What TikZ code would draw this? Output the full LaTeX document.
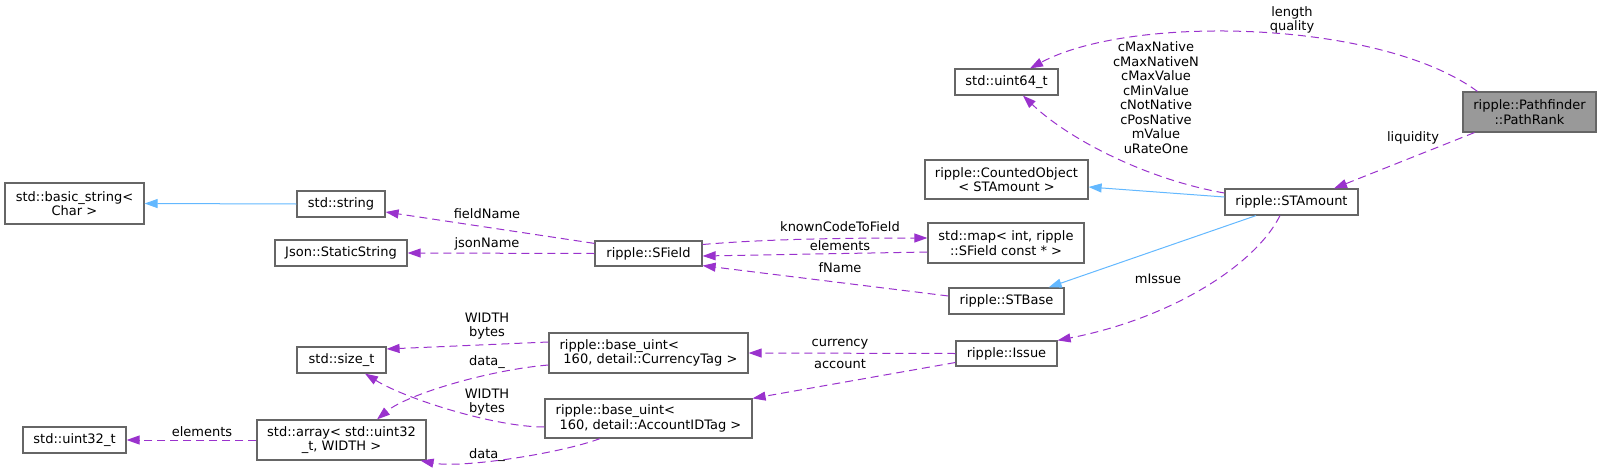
\documentclass[tikz,border=0pt]{standalone}
\usepackage{fontspec}
\setmainfont{DejaVu Sans}
\usetikzlibrary{arrows.meta,calc}
\definecolor{usecol}{HTML}{9A32CD}
\definecolor{inhcol}{HTML}{63B8FF}
\definecolor{boxline}{HTML}{666666}
\definecolor{boxgray}{HTML}{999999}
\tikzset{
  classbox/.style={draw=boxline,line width=1.2pt,fill=white,inner sep=0pt,align=center,
    font=\fontsize{13}{14.5}\selectfont},
  usage/.style={draw=usecol,line width=1pt,dash pattern=on 8pt off 5pt,
    -{Triangle[length=13pt,width=9pt,fill=usecol]}},
  inherit/.style={draw=inhcol,line width=1pt,
    -{Triangle[length=13pt,width=9pt,fill=inhcol]}},
  edgetext/.style={inner sep=0pt,align=center,font=\fontsize{13}{14.5}\selectfont}
}
\begin{document}
\begin{tikzpicture}[x=1pt,y=-1pt]
  \useasboundingbox (0,0) rectangle (1601,471);
  \node[classbox,fill=boxgray,minimum width=133,minimum height=40] (pathrank) at (1529.5,112) {ripple::Pathfinder\\::PathRank};
  \node[classbox,minimum width=133,minimum height=26] (stamount) at (1291.5,202) {ripple::STAmount};
  \node[classbox,minimum width=103,minimum height=26] (uint64) at (1006.5,82) {std::uint64\_t};
  \node[classbox,minimum width=163,minimum height=39] (counted) at (1006.5,179.5) {ripple::CountedObject\\< STAmount >};
  \node[classbox,minimum width=156,minimum height=40] (stdmap) at (1006,243) {std::map< int, ripple\\::SField const * >};
  \node[classbox,minimum width=115,minimum height=26] (stbase) at (1006.5,301) {ripple::STBase};
  \node[classbox,minimum width=101,minimum height=25] (issue) at (1006.5,353.5) {ripple::Issue};
  \node[classbox,minimum width=139,minimum height=41] (basicstr) at (74.5,203.5) {std::basic\_string<\\Char >};
  \node[classbox,minimum width=88,minimum height=26] (stdstring) at (341,204) {std::string};
  \node[classbox,minimum width=132,minimum height=26] (jsonstr) at (341,253) {Json::StaticString};
  \node[classbox,minimum width=107,minimum height=25] (sfield) at (648.5,253.5) {ripple::SField};
  \node[classbox,minimum width=89,minimum height=26] (sizet) at (341.5,360) {std::size\_t};
  \node[classbox,minimum width=103,minimum height=26] (uint32) at (74.5,440) {std::uint32\_t};
  \node[classbox,minimum width=169,minimum height=40] (stdarray) at (341.5,440) {std::array< std::uint32\\\_t, WIDTH >};
  \node[classbox,align=left,minimum width=199,minimum height=40] (curtag) at (648.5,353) {ripple::base\_uint<\\\hspace*{0.3em}160, detail::CurrencyTag >};
  \node[classbox,align=left,minimum width=207,minimum height=39] (acctag) at (648.5,418.5) {ripple::base\_uint<\\\hspace*{0.3em}160, detail::AccountIDTag >};

  \draw[usage] ($(pathrank.north west)+(15,0)$) .. controls +(-98,-72) and +(100,-54) .. ($(uint64.north)+(23.5,0)$);
  \draw[usage] ($(pathrank.south west)+(12,0)$) -- ($(stamount.north)+(42.5,0)$);
  \draw[usage] ($(stamount.west)+(0,-9)$) .. controls +(-75,-13) and +(47,45) .. ($(uint64.south)+(16.5,0)$);
  \draw[inherit] ($(stamount.west)+(0,-5)$) -- ($(counted.east)+(0,7.5)$);
  \draw[inherit] ($(stamount.south)+(-35.5,0)$) -- ($(stbase.north east)+(-16,0)$);
  \draw[usage] ($(stamount.south)+(-11.5,0)$) .. controls +(-25,50) and +(113,-22) .. (issue.north east);
  \draw[usage] ($(sfield.north west)+(0,3)$) -- ($(stdstring.east)+(0,8)$);
  \draw[usage] (sfield.west) -- (jsonstr.east);
  \draw[usage] ($(sfield.east)+(0,-9)$) .. controls +(70,-6) and +(-70,0) .. ($(stdmap.west)+(0,-5)$);
  \draw[usage] ($(stdmap.west)+(0,9)$) -- ($(sfield.east)+(0,2.5)$);
  \draw[usage] ($(stbase.west)+(0,-5)$) -- ($(sfield.south east)+(0,-1)$);
  \draw[inherit] (stdstring.west) -- (basicstr.east);
  \draw[usage] (issue.west) -- (curtag.east);
  \draw[usage] ($(issue.west)+(0,9)$) -- (acctag.north east);
  \draw[usage] ($(curtag.west)+(0,-11)$) -- ($(sizet.east)+(0,-11)$);
  \draw[usage] ($(curtag.west)+(0,12)$) .. controls +(-60,5) and +(30,-25) .. ($(stdarray.north)+(35.5,0)$);
  \draw[usage] ($(acctag.west)+(0,8.5)$) .. controls +(-50,0) and +(40,25) .. ($(sizet.south)+(23.5,0)$);
  \draw[usage] ($(acctag.south)+(-48.5,0)$) .. controls +(-40,15) and +(40,8) .. ($(stdarray.south east)+(-6,0)$);
  \draw[usage] (stdarray.west) -- (uint32.east);

  \node[edgetext] (lbllen) at (1292,20) {length\\quality};
  \node[edgetext] (lblliq) at (1413,138) {liquidity};
  \node[edgetext] (lblconst) at (1156,97.5) {cMaxNative\\cMaxNativeN\\cMaxValue\\cMinValue\\cNotNative\\cPosNative\\mValue\\uRateOne};
  \node[edgetext] (lblissue) at (1158,279) {mIssue};
  \node[edgetext] (lblfield) at (487,214) {fieldName};
  \node[edgetext] (lbljson) at (487,244) {jsonName};
  \node[edgetext] (lblknown) at (840,227) {knownCodeToField};
  \node[edgetext] (lblelem) at (840,246) {elements};
  \node[edgetext] (lblfname) at (840,268) {fName};
  \node[edgetext] (lblcur) at (840,344) {currency};
  \node[edgetext] (lblacc) at (840,364) {account};
  \node[edgetext] (lblwidtha) at (487,326) {WIDTH\\bytes};
  \node[edgetext] (lbldataa) at (487,362) {data\_};
  \node[edgetext] (lblwidthb) at (487,402) {WIDTH\\bytes};
  \node[edgetext] (lbldatab) at (487,455) {data\_};
  \node[edgetext] (lblelemb) at (202,432) {elements};
\end{tikzpicture}
\end{document}
